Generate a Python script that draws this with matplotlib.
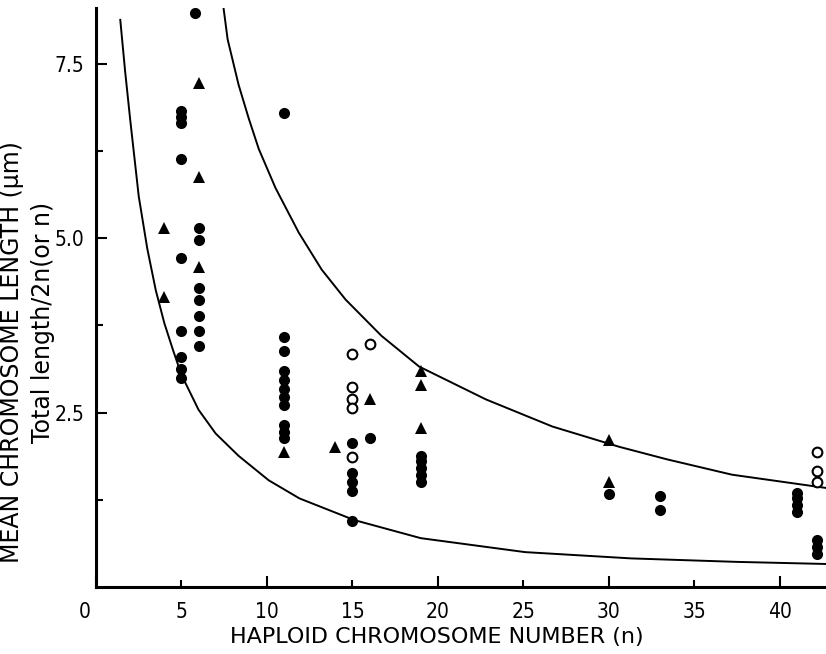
import matplotlib
matplotlib.use("Agg")
import matplotlib.pyplot as plt
from matplotlib.ticker import FixedLocator, FixedFormatter
from matplotlib.transforms import ScaledTranslation

plt.rcParams.update({"font.family": ["DejaVu Sans"], "font.stretch": "condensed", "font.size": 15})

# filled circles (haploid number n, mean length)
dot_n = [5, 5, 5, 5, 5, 5, 5, 5, 5,
         5.8, 6, 6, 6, 6, 6, 6, 6,
         11, 11, 11, 11, 11, 11, 11, 11, 11, 11, 11,
         15, 15, 15, 15, 15, 16,
         19, 19, 19, 19, 19,
         30, 33, 33, 41, 41, 41, 41,
         42.2, 42.2, 42.2]
dot_v = [6.83, 6.74, 6.65, 6.14, 4.71, 3.67, 3.30, 3.12, 2.99,
         8.23, 5.15, 4.98, 4.28, 4.12, 3.89, 3.67, 3.45,
         6.80, 3.59, 3.39, 3.10, 2.97, 2.84, 2.73, 2.61, 2.32, 2.22, 2.13,
         2.06, 1.63, 1.51, 1.38, 0.95, 2.14,
         1.88, 1.80, 1.71, 1.61, 1.51,
         1.33, 1.30, 1.10, 1.35, 1.27, 1.18, 1.08,
         0.68, 0.57, 0.47]

# filled triangles
tri_n = [4, 4, 6, 6, 6, 11, 14, 16, 19, 19, 19, 30, 30]
tri_v = [5.15, 4.16, 7.23, 5.88, 4.59, 1.93, 2.01, 2.69, 3.10, 2.89, 2.28, 2.11, 1.50]

# open circles
ring_n = [15, 15, 15, 15, 15, 16, 42.2, 42.2, 42.2]
ring_v = [3.34, 2.87, 2.70, 2.56, 1.87, 3.49, 1.94, 1.67, 1.50]

# envelope curves
low_n = [1.42, 1.7, 2.0, 2.5, 3.0, 3.5, 4.0, 4.5, 5.0, 6.0, 7.0, 8.34, 10.1, 11.9,
         15.1, 19.0, 25.1, 31.3, 37.5, 42.7]
low_v = [8.13, 7.4, 6.7, 5.6, 4.85, 4.25, 3.78, 3.4, 3.04, 2.54, 2.2, 1.88, 1.53, 1.27,
         0.96, 0.70, 0.50, 0.41, 0.36, 0.33]
up_n = [7.46, 7.70, 8.34, 8.93, 9.52, 10.5, 11.86, 13.2, 14.6, 16.7, 18.9, 22.8, 26.7,
        30.6, 33.4, 37.2, 42.7]
up_v = [8.3, 7.85, 7.2, 6.72, 6.28, 5.72, 5.08, 4.55, 4.12, 3.6, 3.16, 2.69, 2.30,
        2.01, 1.83, 1.61, 1.42]

fig = plt.figure(figsize=(8.26, 6.54), dpi=100)
ax = fig.add_axes([96 / 826, 1 - 587 / 654, 1 - 96 / 826, (587 - 8) / 654])

ax.plot(low_n, low_v, "-", color="black", lw=1.4)
ax.plot(up_n, up_v, "-", color="black", lw=1.4)
ax.plot(dot_n, dot_v, "o", color="black", ms=8, mew=0)
ax.plot(tri_n, tri_v, "^", color="black", ms=8.5, mew=0)
ax.plot(ring_n, ring_v, "o", mfc="white", mec="black", ms=7, mew=1.5)

ax.set_xlim(0, 42.7)
ax.set_ylim(0, 8.3)

for s in ["top", "right"]:
    ax.spines[s].set_visible(False)
for s in ["left", "bottom"]:
    ax.spines[s].set_linewidth(2.2)

ax.xaxis.set_major_locator(FixedLocator([0, 10, 20, 30, 40]))
ax.xaxis.set_major_formatter(FixedFormatter(["0", "10", "20", "30", "40"]))
ax.xaxis.set_minor_locator(FixedLocator([5, 15, 25, 35]))
ax.xaxis.set_minor_formatter(FixedFormatter(["5", "15", "25", "35"]))
ax.yaxis.set_major_locator(FixedLocator([2.5, 5.0, 7.5]))
ax.yaxis.set_major_formatter(FixedFormatter(["2.5", "5.0", "7.5"]))
ax.yaxis.set_minor_locator(FixedLocator([1.25, 3.75, 6.25]))

ax.tick_params(which="major", direction="in", length=8, width=1.5, labelsize=15)
ax.tick_params(which="minor", direction="in", length=5, width=1.5, labelsize=15)
ax.tick_params(axis="x", which="both", pad=11)
ax.tick_params(axis="y", which="both", pad=8.5)

# the "0" label sits a little left of the axis corner in the original
for lab in ax.get_xticklabels():
    if lab.get_text() == "0":
        lab.set_transform(lab.get_transform() + ScaledTranslation(-0.11, 0, fig.dpi_scale_trans))

fig.text(12 / 826, 1 - 352 / 654, "MEAN CHROMOSOME LENGTH (\u03bcm)", rotation=90,
         ha="center", va="center", fontsize=17, fontstretch="normal")
fig.text(43 / 826, 1 - 322 / 654, "Total length/2n(or n)", rotation=90,
         ha="center", va="center", fontsize=17, fontstretch="normal")
fig.text(437 / 826, 1 - 637 / 654, "HAPLOID CHROMOSOME NUMBER (n)",
         ha="center", va="center", fontsize=16, fontstretch="normal")

fig.savefig("out.png", dpi=100)
